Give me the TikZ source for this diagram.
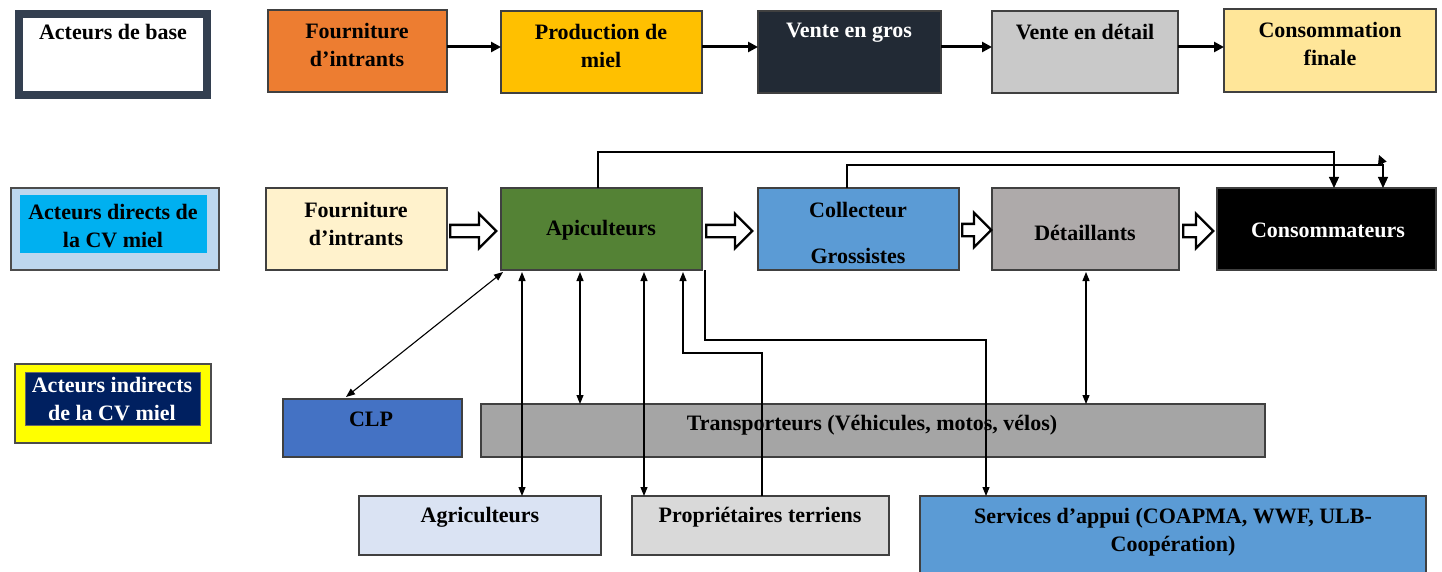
\documentclass[tikz,border=0pt]{standalone}
\usepackage{fontspec}
\setmainfont{Liberation Serif}
\usetikzlibrary{arrows.meta,shapes.arrows}
\definecolor{cnavy}{HTML}{333F50}
\definecolor{corange}{HTML}{ED7D31}
\definecolor{cgold}{HTML}{FFC000}
\definecolor{cdark}{HTML}{222A35}
\definecolor{clgray}{HTML}{C9C9C9}
\definecolor{ccream}{HTML}{FFE699}
\definecolor{cpale}{HTML}{BDD7EE}
\definecolor{ccyan}{HTML}{00B0F0}
\definecolor{cbeige}{HTML}{FFF2CC}
\definecolor{cgreen}{HTML}{548235}
\definecolor{cblue}{HTML}{5B9BD5}
\definecolor{cgrayb}{HTML}{AEAAAA}
\definecolor{cyel}{HTML}{FFFF00}
\definecolor{cdnavy}{HTML}{002060}
\definecolor{cclp}{HTML}{4472C4}
\definecolor{ctrans}{HTML}{A5A5A5}
\definecolor{cagr}{HTML}{DAE3F3}
\definecolor{cprop}{HTML}{D9D9D9}
\begin{document}
\begin{tikzpicture}[x=1pt,y=-1pt,
  box/.style={draw=black!75, line width=1.2pt, inner sep=0pt, outer sep=0pt, anchor=north west, rectangle},
  txt/.style={font=\fontsize{22}{28}\selectfont\bfseries, align=center, inner sep=0pt},
  conn/.style={line width=1.1pt, >={Triangle[length=9pt,width=7pt]}},
  thick arrow/.style={line width=3pt, -{Triangle[length=10pt,width=10pt]}},
  hollow/.style={single arrow, draw=black, fill=white, line width=2.4pt, minimum height=46pt, inner xsep=0pt, inner ysep=5pt, single arrow head extend=11pt, single arrow head indent=0pt, anchor=tail}
]
\useasboundingbox (0,0) rectangle (1442,572);
% ---------- row 1
\node[box, draw=cnavy, line width=8pt, fill=white, minimum width=188pt, minimum height=81pt] (base) at (19,14) {};
\node[txt] (tbase) at (113,32) {Acteurs de base};
\node[box, fill=corange, minimum width=179pt, minimum height=82pt] (fi1) at (268,10) {};
\node[txt] (tfi1) at (357,45) {Fourniture\\d’intrants};
\node[box, fill=cgold, minimum width=201pt, minimum height=82pt] (pm) at (501,11) {};
\node[txt] (tpm) at (601,46) {Production de\\miel};
\node[box, fill=cdark, minimum width=183pt, minimum height=82pt] (vg) at (758,11) {};
\node[txt, text=white] (tvg) at (849,33) {Vente en gros};
\node[box, fill=clgray, minimum width=186pt, minimum height=82pt] (vd) at (992,11) {};
\node[txt] (tvd) at (1085,32) {Vente en détail};
\node[box, fill=ccream, minimum width=212pt, minimum height=83pt] (cf) at (1224,9) {};
\node[txt] (tcf) at (1330,44) {Consommation\\finale};
\draw[thick arrow] ([yshift=4pt]fi1.east) -- ([yshift=4pt]fi1.east -| pm.west);
\draw[thick arrow] ([yshift=5pt]pm.east) -- ([yshift=5pt]pm.east -| vg.west);
\draw[thick arrow] ([yshift=5pt]vg.east) -- ([yshift=5pt]vg.east -| vd.west);
\draw[thick arrow] ([yshift=5pt]vd.east) -- ([yshift=5pt]vd.east -| cf.west);
% ---------- row 2
\node[box, fill=cpale, draw=black!70, minimum width=208pt, minimum height=82pt] (ad) at (11,188) {};
\node[box, fill=ccyan, draw=none, minimum width=187pt, minimum height=58pt] (adi) at (20,195) {};
\node[txt] (tad) at (113,226) {Acteurs directs de\\la CV miel};
\node[box, fill=cbeige, minimum width=181pt, minimum height=82pt] (fi2) at (266,188) {};
\node[txt] (tfi2) at (356,224) {Fourniture\\d’intrants};
\node[box, fill=cgreen, minimum width=201pt, minimum height=82pt] (api) at (501,188) {};
\node[txt] (tapi) at (601,230) {Apiculteurs};
\node[box, fill=cblue, minimum width=201pt, minimum height=82pt] (col) at (758,188) {};
\node[txt] (tcol1) at (858,210) {Collecteur};
\node[txt] (tcol2) at (858,256) {Grossistes};
\node[box, fill=cgrayb, minimum width=187pt, minimum height=82pt] (det) at (992,188) {};
\node[txt] (tdet) at (1085,233) {Détaillants};
\node[box, fill=black, minimum width=219pt, minimum height=82pt] (cons) at (1217,188) {};
\node[txt, text=white] (tcons) at (1328,230) {Consommateurs};
\node[hollow] (h1) at ([xshift=2pt,yshift=-2pt]fi2.east) {};
\node[hollow] (h2) at ([xshift=3pt,yshift=-2pt]api.east) {};
\node[hollow, minimum height=29pt] (h3) at ([xshift=2pt,yshift=-1pt]col.east) {};
\node[hollow, minimum height=30pt] (h4) at ([xshift=3pt,yshift=-2pt]det.east) {};
% ---------- row 3
\node[box, fill=cyel, draw=black!70, minimum width=196pt, minimum height=79pt] (ai) at (15,364) {};
\node[box, fill=cdnavy, draw=black!60, line width=0.8pt, minimum width=175pt, minimum height=53pt] (aii) at (25,372) {};
\node[txt, text=white] (tai) at (112,399) {Acteurs indirects\\de la CV miel};
\node[box, fill=cclp, minimum width=179pt, minimum height=58pt] (clp) at (283,399) {};
\node[txt] (tclp) at (371,419) {CLP};
\node[box, fill=ctrans, minimum width=784pt, minimum height=53pt] (tr) at (481,404) {};
\node[txt] (ttr) at (872,425) {Transporteurs (Véhicules, motos, vélos)};
% ---------- row 4
\node[box, fill=cagr, minimum width=242pt, minimum height=59pt] (agr) at (359,496) {};
\node[txt] (tagr) at (480,517) {Agriculteurs};
\node[box, fill=cprop, minimum width=257pt, minimum height=59pt] (prop) at (632,496) {};
\node[txt] (tprop) at (760,517) {Propriétaires terriens};
\node[box, fill=cblue, minimum width=506pt, minimum height=90pt] (serv) at (920,496) {};
\node[txt] (tserv) at (1173,532) {Services d’appui (COAPMA, WWF, ULB-\\Coopération)};
% ---------- connectors
\draw[conn,<->] ([xshift=63pt,yshift=2pt]clp.north west) -- ([xshift=2pt,yshift=-2pt]api.south west);
\draw[conn,<->] ([xshift=21pt,yshift=-2pt]api.south west) -- ([xshift=21pt]api.south west |- agr.north);
\draw[conn,<->] ([xshift=79pt,yshift=-2pt]api.south west) -- ([xshift=79pt]api.south west |- tr.north);
\draw[conn,<->] ([xshift=143pt,yshift=-2pt]api.south west) -- ([xshift=143pt]api.south west |- prop.north);
\draw[conn,->] ([xshift=130pt]prop.north west) -- ++(0,-143) -| ([xshift=182pt,yshift=-2pt]api.south west);
\draw[conn,->] ([xshift=3pt]api.south east) -- ++(0,70) -| ([xshift=66pt]serv.north west);
\draw[conn,<->] ([xshift=94pt,yshift=-2pt]det.south west) -- ([xshift=94pt]det.south west |- tr.north);
\draw[conn,->,>={Triangle[length=11pt,width=10pt]}] ([xshift=97pt]api.north west) -- ++(0,-36) -| ([xshift=117pt]cons.north west);
\draw[conn,->,>={Triangle[length=11pt,width=10pt]}] ([xshift=89pt]col.north west) -- ++(0,-23) -| ([xshift=166pt]cons.north west);
\draw[conn,->,>={Triangle[length=9pt,width=9pt]}] ([xshift=166pt,yshift=23pt]cons.north west) -- ++(-4,-10);
\end{tikzpicture}
\end{document}
